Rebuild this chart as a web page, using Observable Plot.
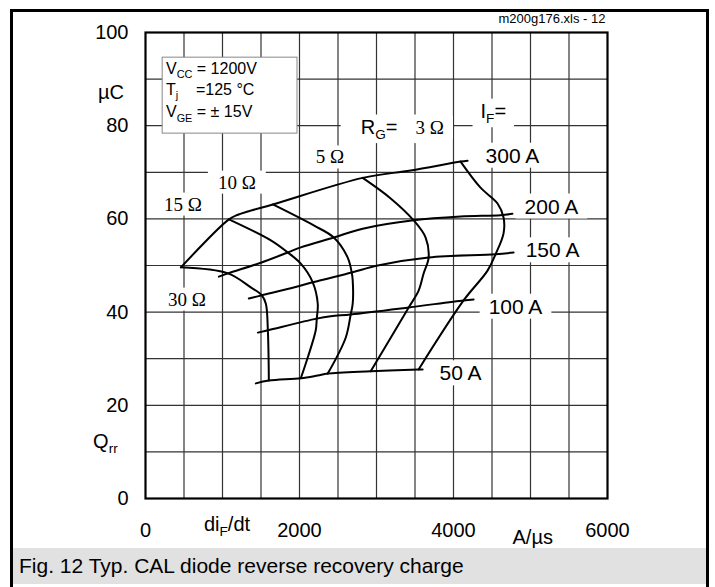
<!DOCTYPE html>
<html>
<head>
<meta charset="utf-8">
<script src="https://cdn.jsdelivr.net/npm/d3@7"></script>
<script src="https://cdn.jsdelivr.net/npm/@observablehq/plot@0.6"></script>
<style>
  html, body { margin: 0; padding: 0; background: white; }
  #wrap { position: relative; width: 715px; height: 587px; overflow: hidden; font-family: 'Liberation Sans', Arial, sans-serif; }
  #chart { position: absolute; left: 0; top: 0; }
  #border { position: absolute; left: 10px; top: 9px; width: 693px; height: 575px; border: 3px solid black; pointer-events: none; }
  #caption { position: absolute; left: 13px; top: 548px; width: 693px; height: 36px; background: #e1e1e1; font-size: 21px; line-height: 36px; padding-left: 6px; box-sizing: border-box; color: black; }
</style>
</head>
<body>
<div id="wrap">
  <div id="chart"></div>
  <div id="caption">Fig. 12 Typ. CAL diode reverse recovery charge</div>
  <div id="border"></div>
</div>
<script>
// ---- Data (diF/dt in A/µs, Qrr in µC) ----
const xTicks = [0, 2000, 4000, 6000];
const yTicks = [0, 20, 40, 60, 80, 100];
const xGrid = [500, 1000, 1500, 2000, 2500, 3000, 3500, 4000, 4500, 5000, 5500];
const yGrid = [10, 20, 30, 40, 50, 60, 70, 80, 90];

// IF curves (from RG = 30 Ω side to RG = 3 Ω side)
const if300 = [[460,49.6],[1083,59.9],[1200,60.9],[1329,61.6],[1654,63.1],[2821,68.8],[3444,70.4],[4092,72.3],[4183,72.5]];
const if200 = [[953,47.6],[1070,48.3],[1498,50.6],[1848,52.8],[2017,53.9],[2445,56.0],[2821,57.9],[3482,59.7],[4092,60.5],[4611,60.8],[4766,61.1]];
const if150 = [[1342,42.9],[1511,43.6],[1887,45.1],[2172,46.4],[2678,48.5],[3016,50.0],[3677,51.7],[4546,52.4],[4780,52.8]];
const if100 = [[1459,35.6],[1589,36.1],[2224,38.6],[2406,39.1],[2665,39.5],[3418,41.0],[4131,42.5],[4261,42.7]];
const if50  = [[1433,24.7],[1602,25.3],[2017,25.8],[2237,26.4],[2367,26.8],[2925,27.3],[3547,27.7],[3599,27.7]];

// RG curves (from IF = 300 A down to IF = 50 A)
const rg30 = [[460,49.6],[1070,48.3],[1368,45.3],[1511,43.6],[1563,41.8],[1589,36.1],[1602,25.3]];
const rg15 = [[1083,59.9],[1628,55.4],[1848,52.8],[2017,50.4],[2172,46.4],[2237,41.8],[2224,38.6],[2211,36.1],[2108,30.3],[2017,25.8]];
const rg10 = [[1654,63.1],[2185,58.6],[2445,56.0],[2626,51.7],[2678,48.5],[2691,46.8],[2691,41.8],[2665,39.5],[2600,34.5],[2367,26.8]];
const rg5  = [[2821,68.8],[3184,64.4],[3482,59.7],[3638,56.0],[3677,51.7],[3612,48.3],[3547,44.6],[3418,41.0],[2925,27.3]];
const rg3  = [[4092,72.3],[4351,66.7],[4572,63.3],[4650,60.3],[4650,56.9],[4546,52.4],[4442,48.9],[4131,42.5],[3547,27.7]];

const currentNames = ["300 A", "200 A", "150 A", "100 A", "50 A"];
const resistorNames = ["30 Ω", "15 Ω", "10 Ω", "5 Ω", "3 Ω"];
const currentSeries = [if300, if200, if150, if100, if50];
const resistorSeries = [rg30, rg15, rg10, rg5, rg3];

// Annotation anchors (data units)
const currentLabels = [
  {t: "300 A", x: 4766, y: 73.5},
  {t: "200 A", x: 5272, y: 62.6},
  {t: "150 A", x: 5286, y: 53.2},
  {t: "100 A", x: 4805, y: 41.1},
  {t: "50 A",  x: 4092, y: 26.8}
];
const resistorLabels = [
  {t: "5 Ω",  x: 2211, y: 73.2},
  {t: "10 Ω", x: 940,  y: 67.8},
  {t: "15 Ω", x: 240,  y: 63.1},
  {t: "30 Ω", x: 292,  y: 42.7}
];
const legendLines = [
  {t: "V{CC} = 1200V",   y: 92.3},
  {t: "T{j}    =125 °C", y: 87.7},
  {t: "V{GE} = ± 15V",   y: 82.9}
];

// Build tidy tables
const lineRows = [];
currentSeries.forEach((s, i) => s.forEach(([x, y]) => lineRows.push({key: "I" + currentNames[i], x, y})));
resistorSeries.forEach((s, i) => s.forEach(([x, y]) => lineRows.push({key: "R" + resistorNames[i], x, y})));

const sans = "'Liberation Sans', Arial, Helvetica, sans-serif";
const serif = "'Liberation Serif', 'Times New Roman', serif";

const chart = Plot.plot({
  width: 715,
  height: 548,
  marginLeft: 145,
  marginRight: 108,
  marginTop: 32,
  marginBottom: 50,
  x: {domain: [0, 6000]},
  y: {domain: [0, 100]},
  style: {fontFamily: sans, background: "white", color: "black", overflow: "visible"},
  marks: [
    Plot.gridX(xGrid, {stroke: "#333", strokeOpacity: 1, strokeWidth: 1.2}),
    Plot.gridY(yGrid, {stroke: "#333", strokeOpacity: 1, strokeWidth: 1.2}),
    Plot.frame({stroke: "black", strokeWidth: 2.2}),
    Plot.axisX(xTicks, {tickSize: 0, tickPadding: 24, fontSize: 20, label: null, tickFormat: d => String(d)}),
    Plot.axisY(yTicks, {tickSize: 0, tickPadding: 17, fontSize: 20, label: null}),
    // legend box
    Plot.rect([0], {x1: 223, x2: 1974, y1: 78.3, y2: 94.6, fill: "white", stroke: "#888", strokeWidth: 1}),
    Plot.text(legendLines, {x: 266, y: "y", text: "t", textAnchor: "start", fontSize: 16}),
    // curves
    Plot.line(lineRows, {x: "x", y: "y", z: "key", curve: "catmull-rom", stroke: "black", strokeWidth: 2}),
    // labels (white boxes added below)
    Plot.text(currentLabels, {x: "x", y: "y", text: "t", textAnchor: "middle", fontSize: 21}),
    Plot.text(resistorLabels, {x: "x", y: "y", text: "t", textAnchor: "start", fontSize: 19, fontFamily: serif}),
    Plot.text(["R{G}="], {x: 2795, y: 79.7, text: d => d, textAnchor: "start", fontSize: 20}),
    Plot.text(["3 Ω"], {x: 3508, y: 79.6, text: d => d, textAnchor: "start", fontSize: 19, fontFamily: serif}),
    Plot.text(["I{F}="], {x: 4351, y: 83.1, text: d => d, textAnchor: "start", fontSize: 20}),
    // outer axis labels
    Plot.text(["µC"], {x: -279, y: 87.2, text: d => d, textAnchor: "end", fontSize: 20}),
    Plot.text(["Q{rr}"], {x: -681, y: 12.3, text: d => d, textAnchor: "start", fontSize: 20}),
    Plot.text(["di{F}/dt"], {x: 759, y: -5.5, text: d => d, textAnchor: "start", fontSize: 20}),
    Plot.text(["A/µs"], {x: 4766, y: -8.3, text: d => d, textAnchor: "start", fontSize: 20}),
    Plot.text(["m200g176.xls - 12"], {x: 5973, y: 103.0, text: d => d, textAnchor: "end", fontSize: 13})
  ]
});

document.getElementById("chart").appendChild(chart);

// which labels get a white box (and its horizontal padding)
const boxPad = new Map([
  ...currentLabels.map(d => [d.t, 9]),
  ...resistorLabels.map(d => [d.t, 10]),
  ["3 Ω", 9], ["I{F}=", 8], ["R{G}=", 20]
]);
d3.select(chart).selectAll("text").each(function () {
  if (this.querySelector("tspan")) return;
  const t = this.textContent;
  if (boxPad.has(t)) this.setAttribute("data-box", boxPad.get(t));
});

// subscripts: "{...}" segments become lowered smaller tspans
d3.select(chart).selectAll("text").each(function () {
  const el = this;
  const t = el.textContent;
  if (!t.includes("{")) return;
  const fs = parseFloat(getComputedStyle(el).fontSize) || 16;
  el.textContent = "";
  const parts = t.split(/(\{[^}]*\})/);
  let shifted = false;
  for (const p of parts) {
    if (!p) continue;
    const sub = p.startsWith("{");
    const ts = d3.select(el).append("tspan").text(sub ? p.slice(1, -1) : p);
    if (sub) { ts.attr("font-size", fs * 0.68).attr("dy", fs * 0.28); shifted = true; }
    else if (shifted) { ts.attr("dy", -fs * 0.28); shifted = false; }
  }
});

// white backgrounds behind labels (interrupting grid lines)
d3.select(chart).selectAll("text[data-box]").each(function () {
  const padX = +this.getAttribute("data-box"), padY = 1;
  const b = this.getBBox();
  const r = document.createElementNS("http://www.w3.org/2000/svg", "rect");
  r.setAttribute("x", b.x - padX);
  r.setAttribute("y", b.y - padY);
  r.setAttribute("width", b.width + 2 * padX);
  r.setAttribute("height", b.height + 2 * padY);
  r.setAttribute("fill", "white");
  r.setAttribute("stroke", "none");
  const tr = this.getAttribute("transform");
  if (tr) r.setAttribute("transform", tr);
  this.parentNode.insertBefore(r, this);
});
</script>
</body>
</html>
